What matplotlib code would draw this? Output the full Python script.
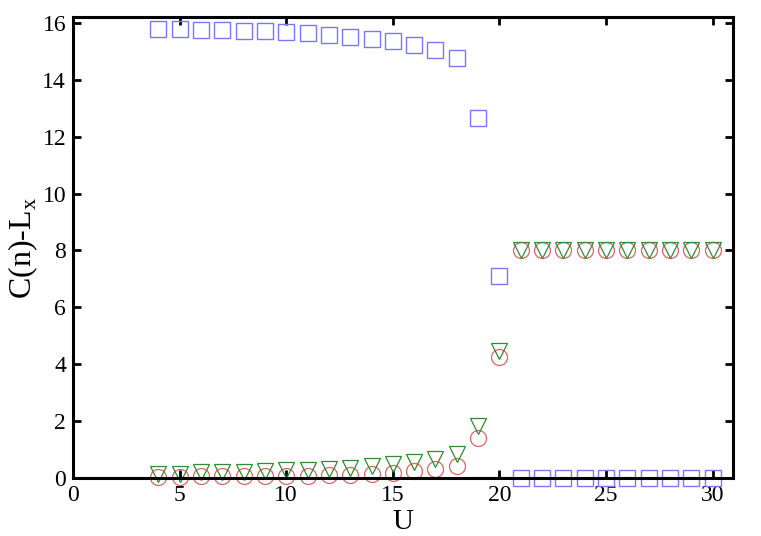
import matplotlib
matplotlib.use('Agg')
import matplotlib.pyplot as plt
import numpy as np

plt.rcParams['font.family'] = 'Liberation Serif'
plt.rcParams['mathtext.fontset'] = 'custom'
plt.rcParams['mathtext.rm'] = 'Liberation Serif'

U = np.arange(4, 31)
# blue squares
sq = [15.78, 15.78, 15.75, 15.74, 15.73, 15.71, 15.67, 15.63, 15.57, 15.51,
      15.44, 15.35, 15.21, 15.03, 14.76, 12.65, 7.11,
      0, 0, 0, 0, 0, 0, 0, 0, 0, 0]
# red circles
circ = [0.05, 0.05, 0.06, 0.06, 0.07, 0.07, 0.08, 0.09, 0.10, 0.12,
        0.14, 0.17, 0.25, 0.33, 0.42, 1.42, 4.25,
        8, 8, 8, 8, 8, 8, 8, 8, 8, 8]
# green triangles
tri = [0.16, 0.16, 0.21, 0.21, 0.21, 0.25, 0.28, 0.28, 0.33, 0.36,
       0.42, 0.48, 0.56, 0.68, 0.83, 1.82, 4.45,
       8, 8, 8, 8, 8, 8, 8, 8, 8, 8]

fig = plt.figure(figsize=(7.61, 5.36), dpi=100)
ax = fig.add_axes([0.096, 0.108, 0.867, 0.860])

ax.plot(U, sq, 's', ms=11.5, mfc='none', mec='#7878ff', mew=1.0, ls='none', clip_on=False)
ax.plot(U, circ, 'o', ms=11.5, mfc='none', mec='#e06464', mew=0.9, ls='none', clip_on=False)
ax.plot(U, tri, 'v', ms=11, mfc='none', mec='#2e8b2e', mew=0.9, ls='none', clip_on=False)

ax.set_xlim(0, 30.95)
ax.set_ylim(0, 16.2)
ax.set_xticks(range(0, 31, 5))
ax.set_yticks(range(0, 17, 2))
ax.tick_params(direction='in', length=6, width=2, labelsize=17, top=True, right=True, pad=5)
for s in ax.spines.values():
    s.set_linewidth(2.2)
ax.set_xlabel('U', fontsize=21, labelpad=2)
ax.set_ylabel(r'C(n)-L$_\mathrm{x}$', fontsize=23, labelpad=2)

fig.savefig('out.png', dpi=100)
